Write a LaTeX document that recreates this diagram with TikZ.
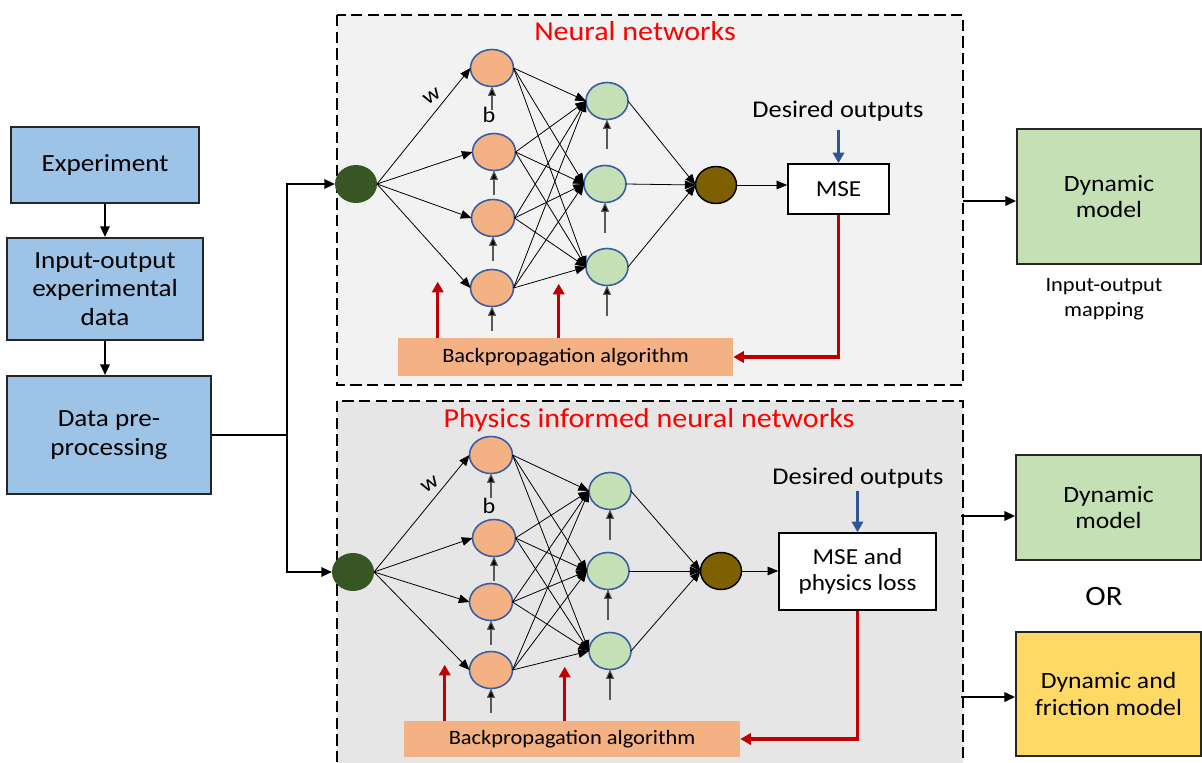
\documentclass[tikz,border=0pt]{standalone}
\usepackage{fontspec}
\setmainfont{Carlito}[FakeStretch=1.1]
\usetikzlibrary{shapes.geometric,arrows.meta}

\definecolor{boxblue}{HTML}{9DC3E6}
\definecolor{boxgreen}{HTML}{C5E0B4}
\definecolor{boxyellow}{HTML}{FFD966}
\definecolor{neurorange}{HTML}{F4B183}
\definecolor{neurblue}{HTML}{3A5FA0}
\definecolor{ingreen}{HTML}{375623}
\definecolor{outbrown}{HTML}{7F6000}
\definecolor{titlered}{HTML}{FF0000}
\definecolor{lossred}{HTML}{C00000}
\definecolor{targetblue}{HTML}{2F5597}
\definecolor{panelA}{HTML}{F2F2F2}
\definecolor{panelB}{HTML}{E6E6E6}

\tikzset{
  sz/.style 2 args={minimum width=#1*0.75pt, minimum height=#2*0.75pt},
  panel/.style={draw=black, line width=1.8pt, dash pattern=on 8.5pt off 4pt},
  lbox/.style={draw=black!85, line width=1.5pt, fill=boxblue, align=center,
    inner sep=0pt, font=\fontsize{18.5}{21.5}\selectfont},
  rbox/.style={draw=black!85, line width=1.3pt, align=center, inner sep=0pt,
    font=\fontsize{17.5}{20}\selectfont},
  lossbox/.style={draw=black, line width=1.2pt, fill=white, align=center, inner sep=0pt,
    font=\fontsize{17.2}{20}\selectfont},
  bpbox/.style={fill=neurorange, inner sep=0pt, font=\fontsize{15.3}{18}\selectfont},
  inp/.style={ellipse, fill=ingreen, inner sep=0pt, outer sep=0pt, sz={42}{38}},
  hida/.style={ellipse, fill=neurorange, draw=neurblue, line width=1.2pt, inner sep=0pt, outer sep=0pt, sz={43}{37}},
  hidb/.style={ellipse, fill=boxgreen, draw=neurblue, line width=1.2pt, inner sep=0pt, outer sep=0pt, sz={42}{37}},
  outn/.style={ellipse, fill=outbrown, draw=black, line width=1.1pt, inner sep=0pt, outer sep=0pt, sz={41}{37}},
  wire/.style={line width=0.6pt, -{Triangle[length=8pt,width=6.5pt]}},
  bias/.style={line width=0.8pt, draw=black!65, -{Triangle[length=7pt,width=6pt,fill=black]}},
  flow/.style={line width=1.6pt, -{Triangle[length=8pt,width=7pt]}},
  redarr/.style={draw=lossred, line width=2.5pt, -{Triangle[length=8pt,width=8.5pt]}},
  bluearr/.style={draw=targetblue, line width=2.5pt, -{Triangle[length=8pt,width=8.5pt]}},
  title/.style={text=titlered, font=\fontsize{20.5}{24}\selectfont},
  plain/.style={font=\fontsize{18}{21}\selectfont},
  wlab/.style={font=\fontsize{16.5}{18}\selectfont},
}

% all wires of one network: input -> layer a -> layer b -> output -> loss,
% each leaving the east point of its source and entering the west point of its target
\newcommand\netwires[1]{%
  \foreach \i in {1,...,4}{\draw[wire] (#1-in.east) -- (#1-a\i.west);}
  \foreach \i in {1,...,4}{\foreach \j in {1,2,3}{\draw[wire] (#1-a\i.east) -- (#1-b\j.west);}}
  \foreach \j in {1,2,3}{\draw[wire] (#1-b\j.east) -- (#1-out.west);}
  \draw[wire] (#1-out.east) -- (#1-out.east -| #1-mse.west);
  \foreach \i in {1,...,4}{\draw[bias] (#1-a\i.south) ++(0,24) -- (#1-a\i.south);}
  \foreach \j in {1,2,3}{\draw[bias] (#1-b\j.south) ++(0,30) -- (#1-b\j.south);}
}

\begin{document}
\begin{tikzpicture}[x=0.75pt,y=-0.75pt]
\clip (0,0) rectangle (1202,763);
\fill[white] (0,0) rectangle (1202,763);

% dashed panels
\draw[panel, fill=panelA] (337,15) rectangle (963,385);
\draw[panel, fill=panelB] (337,401) rectangle (963,800);

% data preparation chain
\node[lbox, sz={188}{76}] (exp) at (105,165) {Experiment};
\node[lbox, sz={196}{102}] (io) at (105,289) {Input-output\\experimental\\data};
\node[lbox, sz={204}{118}] (dp) at (109,435) {Data pre-\\processing};
\draw[flow] (exp) -- (io);
\draw[flow] (io.south) -- (io.south |- dp.north);

% ---------- upper panel: neural network ----------
\node[title] (t-title) at (635,31) {Neural networks};
\node[inp] (t-in) at (356,184) {};
\node[hida] (t-a1) at (492,68) {};
\node[hida] (t-a2) at (494,152) {};
\node[hida] (t-a3) at (493,218) {};
\node[hida] (t-a4) at (492,288) {};
\node[hidb] (t-b1) at (607,101) {};
\node[hidb] (t-b2) at (605,184) {};
\node[hidb] (t-b3) at (607,267) {};
\node[outn] (t-out) at (716,185) {};
\node[lossbox, sz={101}{50}] (t-mse) at (838.5,189) {MSE};
\node[plain] (t-des) at (838,111) {Desired outputs};
\node[bpbox, sz={335}{38}] (t-bp) at (565.5,357) {Backpropagation algorithm};
\node[wlab, rotate=32] (t-w) at (432,96) {w};
\node[wlab] (t-b) at (489,115) {b};
\netwires{t}
\draw[bluearr] (t-mse.north) ++(0,-33) -- (t-mse.north);
\draw[redarr] (t-mse.south) |- (t-bp.east);
\draw[redarr] ([xshift=40*0.75pt]t-bp.north west) -- ++(0,-56);
\draw[redarr] ([xshift=161*0.75pt]t-bp.north west) -- ++(0,-54);

% ---------- lower panel: physics informed network ----------
\node[title] (p-title) at (649,420) {Physics informed neural networks};
\node[inp] (p-in) at (353,572) {};
\node[hida] (p-a1) at (491,455) {};
\node[hida] (p-a2) at (494,538) {};
\node[hida] (p-a3) at (491,602) {};
\node[hida] (p-a4) at (491,670) {};
\node[hidb] (p-b1) at (610,491) {};
\node[hidb] (p-b2) at (608,571) {};
\node[hidb] (p-b3) at (610,651) {};
\node[outn] (p-out) at (721,571) {};
\node[lossbox, sz={157}{77}] (p-mse) at (857.5,571.5) {MSE and\\physics loss};
\node[plain] (p-des) at (858,478) {Desired outputs};
\node[bpbox, sz={336}{36}] (p-bp) at (572,739) {Backpropagation algorithm};
\node[wlab, rotate=32] (p-w) at (430,484) {w};
\node[wlab] (p-b) at (489,506) {b};
\netwires{p}
\draw[bluearr] (p-mse.north) ++(0,-41) -- (p-mse.north);
\draw[redarr] (p-mse.south) |- (p-bp.east);
\draw[redarr] ([xshift=41*0.75pt]p-bp.north west) -- ++(0,-56);
\draw[redarr] ([xshift=161*0.75pt]p-bp.north west) -- ++(0,-54);

% split of the pre-processed data into both panels
\coordinate (split) at (287,435);
\draw[line width=1.5pt] (dp.east) -- (split);
\draw[flow] (split) |- (t-in.west);
\draw[flow] (split) |- (p-in.west);

% resulting models
\node[rbox, fill=boxgreen, sz={184}{135}] (dyn1) at (1109,196.5) {Dynamic\\model};
\node[font=\fontsize{15.3}{18.75}\selectfont, align=center] (map) at (1104,299) {Input-output\\mapping};
\node[rbox, fill=boxgreen, sz={185}{105}] (dyn2) at (1108.5,507.5) {Dynamic\\model};
\node[font=\fontsize{21}{24}\selectfont] (or) at (1104,597) {OR};
\node[rbox, fill=boxyellow, sz={185}{124}] (fric) at (1108.5,694) {Dynamic and\\friction model};

\coordinate (o1) at (963,201);
\coordinate (o2) at (961,516);
\coordinate (o3) at (961,697);
\draw[flow] (o1) -- (o1 -| dyn1.west);
\draw[flow] (o2) -- (o2 -| dyn2.west);
\draw[flow] (o3) -- (o3 -| fric.west);
\end{tikzpicture}
\end{document}
